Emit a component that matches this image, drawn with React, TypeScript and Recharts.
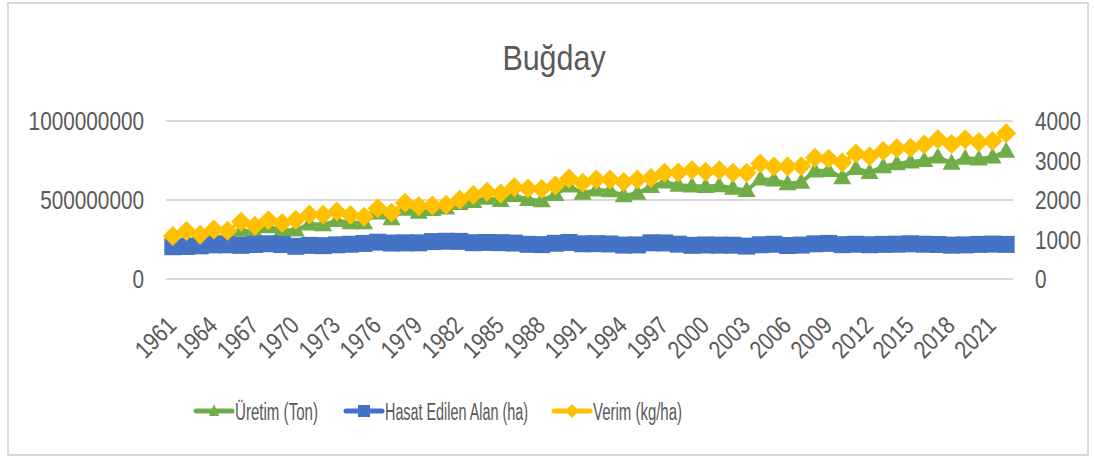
import React from "react";
import { ComposedChart, Line, XAxis, YAxis, CartesianGrid } from "recharts";

const years = [
  1961, 1962, 1963, 1964, 1965, 1966, 1967, 1968, 1969, 1970,
  1971, 1972, 1973, 1974, 1975, 1976, 1977, 1978, 1979, 1980,
  1981, 1982, 1983, 1984, 1985, 1986, 1987, 1988, 1989, 1990,
  1991, 1992, 1993, 1994, 1995, 1996, 1997, 1998, 1999, 2000,
  2001, 2002, 2003, 2004, 2005, 2006, 2007, 2008, 2009, 2010,
  2011, 2012, 2013, 2014, 2015, 2016, 2017, 2018, 2019, 2020,
  2021, 2022,
];

// Üretim (Ton)
const uretim = [
  222400000, 250700000, 234700000, 270700000, 264000000, 308900000, 295000000, 331400000, 308900000, 310700000,
  347500000, 342900000, 369500000, 356700000, 355500000, 417000000, 382100000, 441200000, 422000000, 440300000,
  449400000, 477600000, 490500000, 511800000, 497600000, 528500000, 503400000, 495700000, 535600000, 588600000,
  543100000, 562600000, 558400000, 527300000, 542600000, 584900000, 613200000, 593600000, 587900000, 585500000,
  590400000, 574900000, 560100000, 632700000, 626700000, 602900000, 612600000, 683700000, 686900000, 640800000,
  699800000, 673900000, 711100000, 728900000, 740400000, 750000000, 772700000, 732000000, 764500000, 759000000,
  772000000, 808400000,
];

// Hasat Edilen Alan (ha)
const hasatAlan = [
  204200000, 206100000, 209900000, 215700000, 216400000, 213000000, 218400000, 223200000, 218000000, 207000000,
  212800000, 210900000, 216400000, 220000000, 225100000, 233100000, 227600000, 228700000, 228900000, 236800000,
  239000000, 238100000, 229700000, 231400000, 230000000, 227400000, 219700000, 217600000, 226200000, 231400000,
  222800000, 223600000, 221900000, 214600000, 215500000, 228900000, 228200000, 220300000, 213100000, 215400000,
  214600000, 213800000, 208200000, 216600000, 220000000, 211800000, 214500000, 222700000, 225400000, 217300000,
  220200000, 216800000, 219300000, 220400000, 222900000, 220100000, 218500000, 214300000, 215900000, 219000000,
  220800000, 219200000,
];

// Verim (kg/ha)
const verim = [
  1089, 1216, 1118, 1255, 1220, 1450, 1351, 1485, 1417, 1501,
  1633, 1626, 1707, 1621, 1579, 1789, 1679, 1929, 1844, 1859,
  1880, 2006, 2135, 2212, 2163, 2324, 2291, 2278, 2368, 2544,
  2438, 2516, 2516, 2457, 2518, 2555, 2687, 2695, 2759, 2718,
  2751, 2689, 2690, 2921, 2849, 2847, 2856, 3070, 3047, 2949,
  3178, 3108, 3243, 3307, 3322, 3408, 3537, 3416, 3541, 3466,
  3496, 3688,
];

const leftTicks = [0, 500000000, 1000000000];
const rightTicks = [0, 1000, 2000, 3000, 4000];

const seriesNames = ["Üretim (Ton)", "Hasat Edilen Alan (ha)", "Verim (kg/ha)"];

const data = years.map((y, i) => ({
  year: String(y),
  uretim: uretim[i],
  alan: hasatAlan[i],
  verim: verim[i],
}));

const GREEN = "#70AD47";
const BLUE = "#4472C4";
const YELLOW = "#FFC000";
const TEXT = "#595959";
const GRID = "#D9D9D9";
const FONT = "'Liberation Sans', Arial, sans-serif";
const SQUEEZE = 0.83;

const Triangle = (p: any) => {
  const { cx, cy, index } = p;
  if (cx == null || cy == null) return <g key={`t${index}`} />;
  return (
    <polygon
      key={`t${index}`}
      points={`${cx},${cy - 9.5} ${cx - 9},${cy + 6.5} ${cx + 9},${cy + 6.5}`}
      fill={GREEN}
    />
  );
};
const Square = (p: any) => {
  const { cx, cy, index } = p;
  if (cx == null || cy == null) return <g key={`s${index}`} />;
  return <rect key={`s${index}`} x={cx - 8.5} y={cy - 8.5} width={17} height={17} fill={BLUE} />;
};
const Diamond = (p: any) => {
  const { cx, cy, index } = p;
  if (cx == null || cy == null) return <g key={`d${index}`} />;
  return (
    <polygon
      key={`d${index}`}
      points={`${cx},${cy - 10} ${cx + 10},${cy} ${cx},${cy + 10} ${cx - 10},${cy}`}
      fill={YELLOW}
    />
  );
};

const XTick = (p: any) => {
  const { x, y, payload } = p;
  const ax = x + 5;
  const ay = y + 40;
  return (
    <text
      x={0}
      y={0}
      transform={`translate(${ax}, ${ay}) rotate(-45) scale(${SQUEEZE}, 1)`}
      textAnchor="end"
      fill={TEXT}
      fontSize={25}
      fontFamily={FONT}
    >
      {payload.value}
    </text>
  );
};

const LeftTick = (p: any) => {
  const { y, payload } = p;
  return (
    <text
      x={0}
      y={0}
      transform={`translate(144, ${y + 9}) scale(${SQUEEZE}, 1)`}
      textAnchor="end"
      fill={TEXT}
      fontSize={25}
      fontFamily={FONT}
    >
      {payload.value}
    </text>
  );
};
const RightTick = (p: any) => {
  const { y, payload } = p;
  return (
    <text
      x={0}
      y={0}
      transform={`translate(1035, ${y + 9}) scale(${SQUEEZE}, 1)`}
      textAnchor="start"
      fill={TEXT}
      fontSize={25}
      fontFamily={FONT}
    >
      {payload.value}
    </text>
  );
};

const LEG_SCALE = 0.61;
const legendItems = [
  { name: seriesNames[0], color: GREEN, lineX: 196, textX: 235, textW: 83, shape: "tri" },
  { name: seriesNames[1], color: BLUE, lineX: 346, textX: 385, textW: 143, shape: "sq" },
  { name: seriesNames[2], color: YELLOW, lineX: 554, textX: 593, textW: 89, shape: "dia" },
];

export default function App() {
  return (
    <div style={{ position: "absolute", left: 0, top: 0, width: 1094, height: 457, background: "#fff" }}>
      <div
        style={{
          position: "absolute",
          left: 7,
          top: 2,
          width: 1082,
          height: 454,
          border: `2px solid ${GRID}`,
          boxSizing: "border-box",
        }}
      />
      <svg style={{ position: "absolute", left: 0, top: 0 }} width={1094} height={457}>
        <text
          x={0}
          y={0}
          transform={`translate(554, 70) scale(0.87, 1)`}
          textAnchor="middle"
          fill={TEXT}
          fontSize={35}
          fontFamily={FONT}
        >
          Buğday
        </text>
        {legendItems.map((it) => {
          const cy = 411;
          const mx = it.lineX + 18;
          return (
            <g key={it.name}>
              <line x1={it.lineX} y1={cy} x2={it.lineX + 36} y2={cy} stroke={it.color} strokeWidth={5} strokeLinecap="round" />
              {it.shape === "tri" && (
                <polygon points={`${mx},${cy - 7} ${mx - 5},${cy + 5} ${mx + 5},${cy + 5}`} fill={it.color} />
              )}
              {it.shape === "sq" && <rect x={mx - 6} y={cy - 6} width={12} height={12} fill={it.color} />}
              {it.shape === "dia" && (
                <polygon points={`${mx},${cy - 7} ${mx + 7},${cy} ${mx},${cy + 7} ${mx - 7},${cy}`} fill={it.color} />
              )}
              <text
                x={0}
                y={0}
                transform={`translate(${it.textX}, ${cy + 9}) scale(${LEG_SCALE}, 1)`}
                fill={TEXT}
                fontSize={24}
                fontFamily={FONT}
                textLength={it.textW / LEG_SCALE}
                lengthAdjust="spacingAndGlyphs"
              >
                {it.name}
              </text>
            </g>
          );
        })}
      </svg>
      <div style={{ position: "absolute", left: 0, top: 0 }}>
        <ComposedChart
          width={1094}
          height={457}
          data={data}
          margin={{ top: 121, right: 0, bottom: 0, left: 0 }}
        >
          <CartesianGrid yAxisId="left" vertical={false} stroke={GRID} strokeWidth={2} />
          <XAxis
            dataKey="year"
            scale="band"
            interval={2}
            tickLine={false}
            axisLine={false}
            height={178}
            tick={<XTick />}
          />
          <YAxis
            yAxisId="left"
            orientation="left"
            width={166}
            domain={[0, 1000000000]}
            ticks={leftTicks}
            tickLine={false}
            axisLine={false}
            tick={<LeftTick />}
          />
          <YAxis
            yAxisId="right"
            orientation="right"
            width={81}
            domain={[0, 4000]}
            ticks={rightTicks}
            tickLine={false}
            axisLine={false}
            tick={<RightTick />}
          />
          <Line
            yAxisId="left"
            dataKey="uretim"
            name={seriesNames[0]}
            stroke={GREEN}
            strokeWidth={4}
            dot={Triangle}
            activeDot={false}
            isAnimationActive={false}
          />
          <Line
            yAxisId="left"
            dataKey="alan"
            name={seriesNames[1]}
            stroke={BLUE}
            strokeWidth={4}
            dot={Square}
            activeDot={false}
            isAnimationActive={false}
          />
          <Line
            yAxisId="right"
            dataKey="verim"
            name={seriesNames[2]}
            stroke={YELLOW}
            strokeWidth={4}
            dot={Diamond}
            activeDot={false}
            isAnimationActive={false}
          />
        </ComposedChart>
      </div>
    </div>
  );
}
